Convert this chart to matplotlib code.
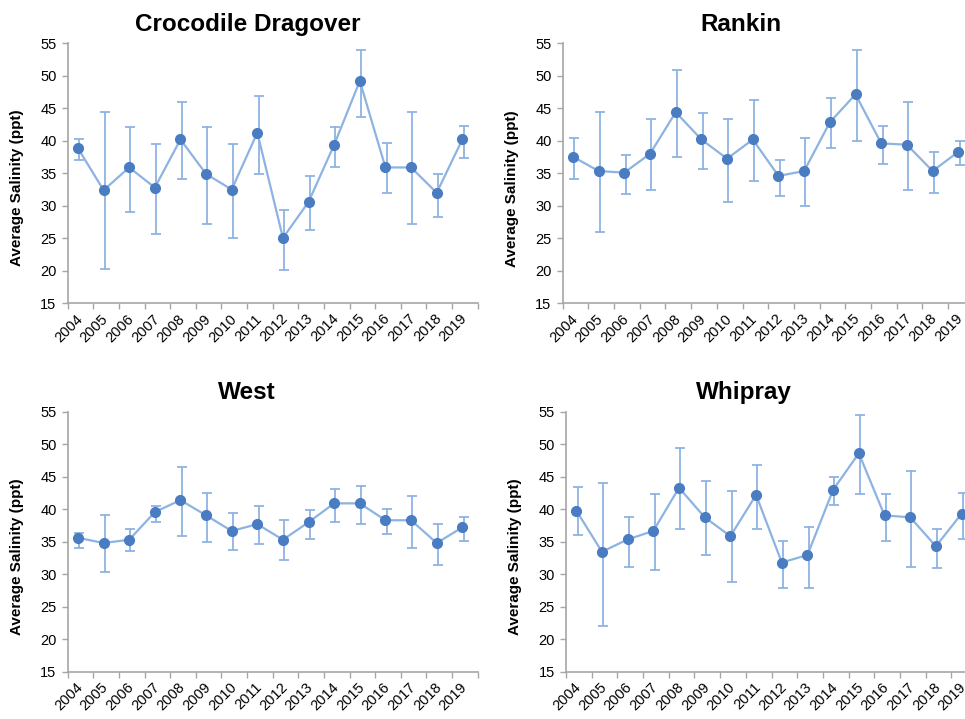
import matplotlib
matplotlib.use("Agg")
import matplotlib.pyplot as plt
import numpy as np
from matplotlib.ticker import FixedLocator, NullFormatter

plt.rcParams['font.family'] = ['Liberation Sans', 'DejaVu Sans']

years = [str(y) for y in range(2004, 2020)]

# Crocodile Dragover
croc_mean = [38.85, 32.4, 35.9, 32.8, 40.2, 34.9, 32.5, 41.25, 25.05, 30.6, 39.4, 49.2, 35.9, 35.9, 32.0, 40.2]
croc_low = [37.05, 20.3, 29.05, 25.6, 34.1, 27.2, 25.1, 34.9, 20.1, 26.2, 36.0, 43.6, 32.0, 27.2, 28.3, 37.3]
croc_high = [40.2, 44.5, 42.1, 39.5, 45.9, 42.1, 39.5, 46.85, 29.35, 34.6, 42.1, 54.0, 39.7, 44.5, 34.95, 42.3]

# Rankin
rank_mean = [37.55, 35.35, 35.1, 38.0, 44.4, 40.2, 37.25, 40.2, 34.6, 35.35, 42.85, 47.15, 39.6, 39.4, 35.35, 38.3]
rank_low = [34.1, 25.9, 31.8, 32.5, 37.55, 35.7, 30.6, 33.8, 31.5, 29.9, 38.9, 40.0, 36.5, 32.5, 32.0, 36.3]
rank_high = [40.5, 44.5, 37.8, 43.4, 50.85, 44.2, 43.4, 46.3, 37.05, 40.5, 46.6, 54.0, 42.3, 45.9, 38.3, 40.0]

# West
west_mean = [35.6, 34.8, 35.3, 39.55, 41.4, 39.05, 36.65, 37.7, 35.3, 38.0, 40.9, 40.9, 38.3, 38.3, 34.8, 37.2]
west_low = [34.1, 30.4, 33.55, 38.0, 35.9, 34.9, 33.8, 34.6, 32.2, 35.4, 38.1, 37.8, 36.2, 34.1, 31.4, 35.15]
west_high = [36.4, 39.1, 37.0, 40.45, 46.5, 42.5, 39.35, 40.45, 38.3, 39.9, 43.05, 43.6, 40.1, 42.0, 37.8, 38.8]

# Whipray
whip_mean = [39.8, 33.45, 35.35, 36.65, 43.3, 38.75, 35.85, 42.2, 31.8, 32.95, 43.0, 48.6, 39.05, 38.75, 34.3, 39.3]
whip_low = [36.1, 22.1, 31.15, 30.6, 36.95, 33.0, 28.75, 36.95, 27.95, 27.95, 40.65, 42.3, 35.1, 31.15, 30.9, 35.35]
whip_high = [43.35, 44.1, 38.8, 42.3, 49.45, 44.4, 42.8, 46.75, 35.1, 37.2, 44.95, 54.45, 42.3, 45.95, 36.95, 42.5]

panels = [
    ("Crocodile Dragover", croc_mean, croc_low, croc_high),
    ("Rankin", rank_mean, rank_low, rank_high),
    ("West", west_mean, west_low, west_high),
    ("Whipray", whip_mean, whip_low, whip_high),
]

W, H = 965, 719
fig = plt.figure(figsize=(W / 100, H / 100), dpi=100)

# axes boxes in pixels: left, top, right, bottom
boxes = [
    (67.7, 43.3, 477.7, 303.3),
    (562.7, 43.3, 973.7, 303.3),
    (67.7, 411.7, 477.7, 671.7),
    (566.0, 411.7, 977.0, 671.7),
]
title_pos = [(248, 31), (741, 31), (247, 399), (744, 399)]
ylabel_pos = [(17, 188), (512, 189), (17, 557), (515, 557)]

line_col = '#8DB3E2'
marker_col = '#4A7CC2'
axis_col = '#A6A6A6'

for (name, mean, low, high), (l, t, r, b), (tx, ty), (lx, ly) in zip(panels, boxes, title_pos, ylabel_pos):
    ax = fig.add_axes([l / W, 1 - b / H, (r - l) / W, (b - t) / H])
    x = np.arange(len(years))
    mean = np.array(mean)
    lo = mean - np.array(low)
    hi = np.array(high) - mean
    ax.errorbar(x - 0.05, mean, yerr=[lo, hi], fmt='none', ecolor=line_col,
                elinewidth=1.3, capsize=3.5, capthick=1.3, zorder=2)
    ax.plot(x - 0.1, mean, '-', color=line_col, lw=1.6, zorder=3)
    ax.plot(x - 0.1, mean, 'o', color=marker_col, ms=7, mec=marker_col, zorder=4)

    ax.set_xlim(-0.5, len(years) - 0.5)
    ax.set_ylim(15, 55)
    ax.set_yticks(np.arange(15, 56, 5))
    ax.set_xticks(x - 0.2)
    ax.set_xticklabels(years, rotation=45, ha='right', rotation_mode='anchor')
    ax.xaxis.set_minor_locator(FixedLocator(np.arange(-0.5, len(years), 1.0)))
    ax.xaxis.set_minor_formatter(NullFormatter())
    ax.tick_params(axis='x', which='major', length=0, pad=6, labelsize=10.5)
    ax.tick_params(axis='x', which='minor', length=4, width=1, color=axis_col, direction='out')
    ax.tick_params(axis='y', length=4, width=1, color=axis_col, direction='out', labelsize=10.5, pad=4)
    for s in ['top', 'right']:
        ax.spines[s].set_visible(False)
    for s in ['left', 'bottom']:
        ax.spines[s].set_color(axis_col)
        ax.spines[s].set_linewidth(1.2)

    fig.text(tx / W, 1 - ty / H, name, ha='center', va='baseline',
             fontsize=17.5, fontweight='bold')
    fig.text(lx / W, 1 - ly / H, 'Average Salinity (ppt)', rotation=90,
             ha='center', va='center', fontsize=11, fontweight='bold')

fig.savefig('out.png', dpi=100)
